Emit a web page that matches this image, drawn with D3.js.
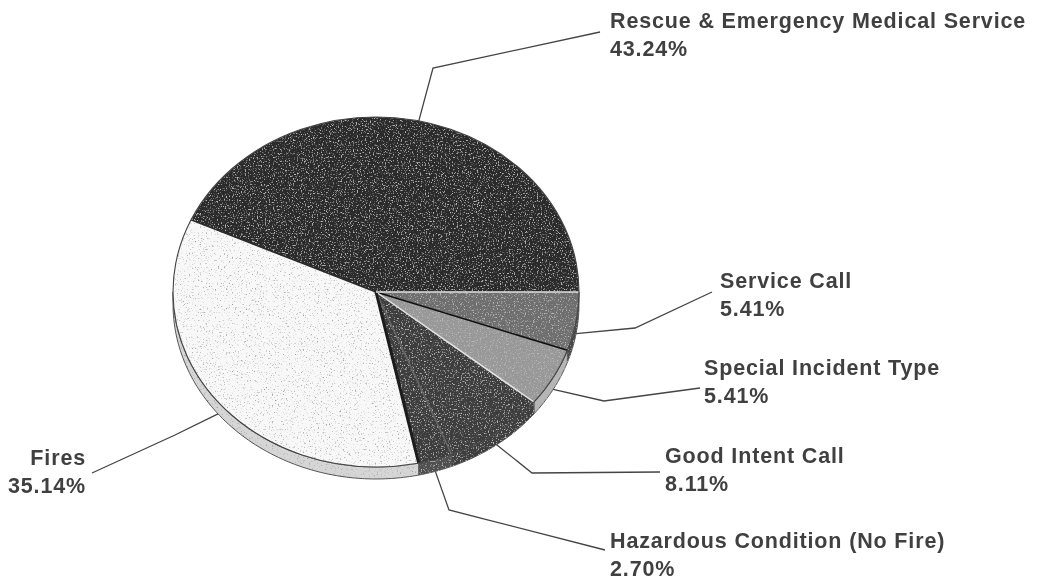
<!DOCTYPE html>
<html><head><meta charset="utf-8">
<script src="https://cdn.jsdelivr.net/npm/d3@7"></script>
<style>html,body{margin:0;background:#fff}svg{display:block}text{font-family:"Liberation Sans",Arial,sans-serif;font-weight:700;font-size:21.5px;letter-spacing:.85px;fill:#404040}</style>
</head><body><svg id="c" width="1039" height="580"></svg>
<script>
const categories = ["Service Call","Special Incident Type","Good Intent Call","Hazardous Condition (No Fire)","Fires","Rescue & Emergency Medical Service"];
const values = [5.41,5.41,8.11,2.70,35.14,43.24];
const valueLabels = ["5.41%","5.41%","8.11%","2.70%","35.14%","43.24%"];
const topColors = ["#6e6e6e","#989898","#3c3c3c","#3c3c3c","#f8f8f8","#2c2c2c"];
const wallColors = ["#4a4a4a","#b5b5b5","#3e3e3e","#505050","#d6d6d6","#333333"];
const seamColors = ["#111111","#e6e6e6","#666666","#1c1c1c","#2a2a2a","#e0e0e0"];
const speckles = ["w","w","w","w","k","w"];

// layout (separate from the data)
const cx=376, cy=292, rx=203, ry=175, depth=12;
const elbows=[[635,328],[604,401],[532,473],[449,510],[175,435],[433,68]];
const ends=[[712,292],[700,388],[660,472],[605,550],[92,473],[600,32]];
const labelPos=[[720,288,"start"],[704,375,"start"],[665,463,"start"],[610,548,"start"],[86,465,"end"],[610,28,"start"]];

const svg=d3.select("#c");
const defs=svg.append("defs");
defs.append("filter").attr("id","soft").attr("filterUnits","userSpaceOnUse").attr("x",0).attr("y",0).attr("width",1039).attr("height",580)
  .append("feGaussianBlur").attr("stdDeviation",0.45);
function speck(id,tv,seed,freq,slope,icpt){
  const f=defs.append("filter").attr("id",id).attr("filterUnits","userSpaceOnUse").attr("x",0).attr("y",0).attr("width",1039).attr("height",580).attr("color-interpolation-filters","sRGB");
  f.append("feTurbulence").attr("type","fractalNoise").attr("baseFrequency",freq).attr("numOctaves",2).attr("seed",seed).attr("result","n");
  f.append("feColorMatrix").attr("in","n").attr("type","matrix").attr("values",`0 0 0 0 ${tv} 0 0 0 0 ${tv} 0 0 0 0 ${tv} ${slope} 0 0 0 ${icpt}`).attr("result","c");
  f.append("feComposite").attr("in","c").attr("in2","SourceAlpha").attr("operator","in").attr("result","s");
  const m=f.append("feMerge");
  m.append("feMergeNode").attr("in","SourceGraphic");
  m.append("feMergeNode").attr("in","s");
}
speck("w",0.72,3,0.75,5,-2.75);
speck("k",0.6,7,0.65,4,-2.4);

const root=svg.append("g").attr("filter","url(#soft)");
const pie=d3.pie().sort(null).value(d=>d).startAngle(Math.PI/2).endAngle(Math.PI*2.5);
const arcs=pie(values);
const px=a=>cx+rx*Math.sin(a), py=a=>cy-ry*Math.cos(a);
const arc=d3.arc().innerRadius(0).outerRadius(1);

// walls: only the front half is visible
const gw=root.append("g");
arcs.forEach((d,i)=>{
  const a0=Math.max(d.startAngle,Math.PI/2), a1=Math.min(d.endAngle,Math.PI*1.5);
  if(a1<=a0) return;
  const area=d3.area().x(px).y0(py).y1(a=>py(a)+depth);
  const samples=d3.range(0,41).map(k=>a0+(a1-a0)*k/40);
  gw.append("path").attr("d",area(samples)).attr("fill",wallColors[i]).attr("stroke","#555").attr("stroke-width",1)
    .attr("filter",`url(#${speckles[i]})`);
});

// top face: the filter sits on an untransformed wrapper so the grain stays pixel sized
const gt=root.append("g");
arcs.forEach((d,i)=>{
  gt.append("g").attr("filter",`url(#${speckles[i]})`)
    .append("path").attr("transform",`translate(${cx},${cy}) scale(${rx},${ry})`)
    .attr("d",arc(d)).attr("fill",topColors[i]);
});
// seams & rim
const gs=root.append("g");
arcs.forEach((d,i)=>{
  gs.append("line").attr("x1",cx).attr("y1",cy).attr("x2",px(d.endAngle)).attr("y2",py(d.endAngle))
    .attr("stroke",seamColors[i]).attr("stroke-width",i===3?3:1.5);
});
gs.append("ellipse").attr("cx",cx).attr("cy",cy).attr("rx",rx).attr("ry",ry).attr("fill","none").attr("stroke","#444").attr("stroke-width",1.1);

// leaders & labels
const gl=root.append("g");
arcs.forEach((d,i)=>{
  const m=(d.startAngle+d.endAngle)/2;
  const front=m>Math.PI/2&&m<Math.PI*1.5;
  const a=[px(m),py(m)+(front?depth:0)];
  gl.append("path").attr("d",d3.line()([a,elbows[i],ends[i]])).attr("fill","none").attr("stroke","#444").attr("stroke-width",1.3);
  const [x,y,anchor]=labelPos[i];
  const t=gl.append("text").attr("text-anchor",anchor).attr("x",x).attr("y",y);
  t.append("tspan").attr("x",x).text(categories[i]);
  t.append("tspan").attr("x",x).attr("dy",28).text(valueLabels[i]);
});
</script></body></html>
